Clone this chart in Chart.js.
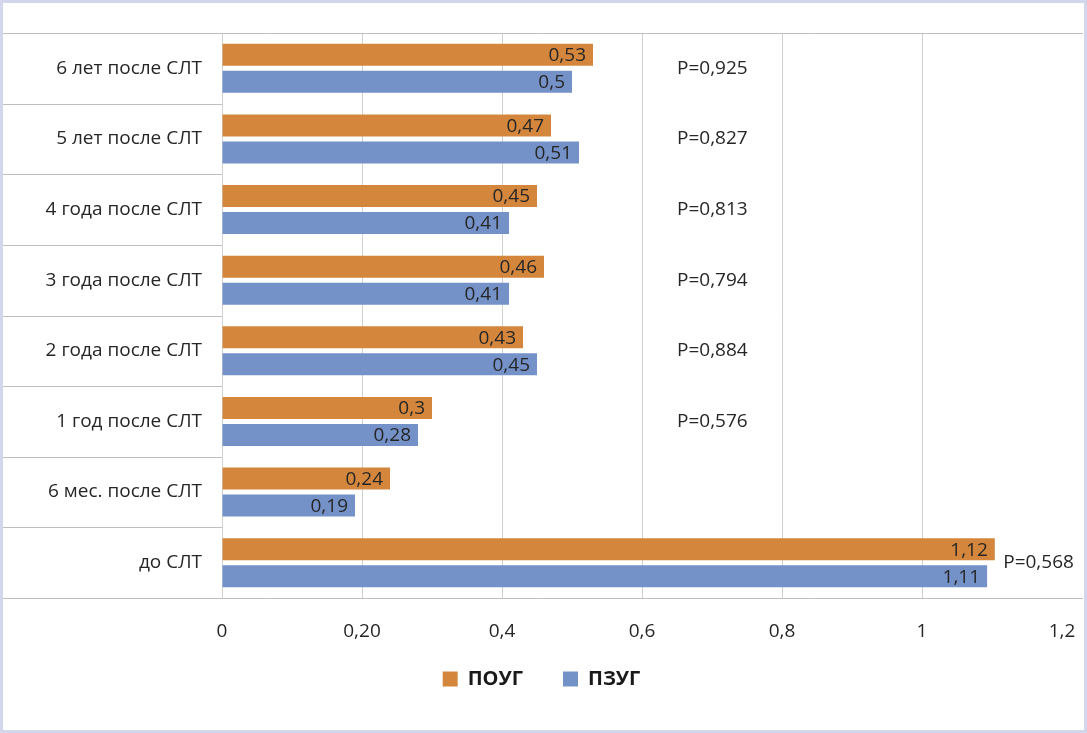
<!DOCTYPE html>
<html lang="ru">
<head>
<meta charset="UTF-8">
<title>СЛТ</title>
<script src="https://cdn.jsdelivr.net/npm/chart.js"></script>
<style>
  html, body { margin: 0; padding: 0; background: #fff; }
  #wrap { width: 1087px; height: 733px; position: relative; }
</style>
</head>
<body>
<div id="wrap"><canvas id="grafico"></canvas></div>
<script>
  // данные с картинки
  var categories = ['6 лет после СЛТ', '5 лет после СЛТ', '4 года после СЛТ', '3 года после СЛТ',
    '2 года после СЛТ', '1 год после СЛТ', '6 мес. после СЛТ', 'до СЛТ'];
  var poug = [0.53, 0.47, 0.45, 0.46, 0.43, 0.30, 0.24, 1.104];
  var pzug = [0.50, 0.51, 0.41, 0.41, 0.45, 0.28, 0.19, 1.093];
  var pougLabels = ['0,53', '0,47', '0,45', '0,46', '0,43', '0,3', '0,24', '1,12'];
  var pzugLabels = ['0,5', '0,51', '0,41', '0,41', '0,45', '0,28', '0,19', '1,11'];
  var pValues = ['P=0,925', 'P=0,827', 'P=0,813', 'P=0,794', 'P=0,884', 'P=0,576', '', 'P=0,568'];
  var pPos = [0.65, 0.65, 0.65, 0.65, 0.65, 0.65, 0.65, 1.116];
  var xTicks = [0, 0.2, 0.4, 0.6, 0.8, 1, 1.2];
  var xTickLabels = ['0', '0,20', '0,4', '0,6', '0,8', '1', '1,2'];

  var FONT = '"Open Sans", "Noto Sans", sans-serif';
  var LINE = '#BFBFBF';

  var framePlugin = {
    id: 'frame',
    beforeDraw: function (chart) {
      var c = chart.ctx;
      c.save();
      c.fillStyle = '#fff';
      c.fillRect(0, 0, chart.width, chart.height);
      c.restore();
    },
    afterDraw: function (chart) {
      var c = chart.ctx, a = chart.chartArea, xs = chart.scales.x;
      c.save();
      c.strokeStyle = LINE;
      c.lineWidth = 1;
      c.beginPath();
      c.moveTo(0, a.top + 0.5); c.lineTo(a.right, a.top + 0.5);
      c.moveTo(0, a.bottom + 0.5); c.lineTo(a.right, a.bottom + 0.5);
      var step = (a.bottom - a.top) / categories.length;
      for (var i = 1; i < categories.length; i++) {
        var yy = Math.round(a.top + step * i) + 0.5;
        c.moveTo(0, yy); c.lineTo(a.left, yy);
      }
      c.stroke();
      // подписи оси X
      c.font = '19px ' + FONT;
      c.fillStyle = '#262626';
      c.textAlign = 'center';
      c.textBaseline = 'middle';
      xTicks.forEach(function (v, i) {
        c.fillText(xTickLabels[i], xs.getPixelForValue(v), a.bottom + 34);
      });
      // рамка картинки
      c.strokeStyle = '#D3D7EC';
      c.lineWidth = 3;
      c.strokeRect(1.5, 1.5, chart.width - 3, chart.height - 3);
      c.restore();
    }
  };

  var labelPlugin = {
    id: 'valueLabels',
    afterDatasetsDraw: function (chart) {
      var c = chart.ctx;
      c.save();
      c.font = '19px ' + FONT;
      c.fillStyle = '#262626';
      c.textAlign = 'right';
      c.textBaseline = 'middle';
      [pougLabels, pzugLabels].forEach(function (lbls, d) {
        chart.getDatasetMeta(d).data.forEach(function (bar, i) {
          c.fillText(lbls[i], bar.x - 7, bar.y + 1);
        });
      });
      // P-значения
      c.textAlign = 'left';
      var xs = chart.scales.x, ys = chart.scales.y;
      pValues.forEach(function (t, i) {
        if (!t) return;
        c.fillText(t, xs.getPixelForValue(pPos[i]), ys.getPixelForValue(i));
      });
      c.restore();
    }
  };

  new Chart(document.getElementById('grafico'), {
    type: 'bar',
    data: {
      labels: categories,
      datasets: [{
        label: 'ПОУГ',
        data: poug,
        backgroundColor: '#D4873C',
        categoryPercentage: 0.765,
        barPercentage: 0.815
      }, {
        label: 'ПЗУГ',
        data: pzug,
        backgroundColor: '#7592C8',
        categoryPercentage: 0.765,
        barPercentage: 0.815
      }]
    },
    options: {
      indexAxis: 'y',
      responsive: true,
      maintainAspectRatio: false,
      animation: false,
      layout: { padding: { top: 33, right: 4, bottom: 34, left: 0 } },
      scales: {
        x: {
          min: 0,
          max: 1.23,
          afterBuildTicks: function (scale) {
            scale.ticks = xTicks.map(function (v) { return { value: v }; });
          },
          afterFit: function (scale) {
            scale.height = 31;
            scale.paddingLeft = 0;
            scale.paddingRight = 0;
          },
          grid: {
            color: function (ctx) { return ctx.tick && ctx.tick.value === 1.2 ? 'rgba(0,0,0,0)' : '#D0D0D0'; },
            drawTicks: false
          },
          border: { display: false },
          ticks: { display: false }
        },
        y: {
          afterFit: function (scale) { scale.width = 222; },
          grid: { display: false, drawTicks: false },
          border: { display: false },
          ticks: {
            padding: 20,
            crossAlign: 'near',
            color: '#262626',
            font: { family: FONT, size: 19 }
          }
        }
      },
      plugins: {
        legend: {
          position: 'bottom',
          labels: {
            boxWidth: 15,
            boxHeight: 15,
            padding: 40,
            color: '#1a1a1a',
            font: { family: FONT, size: 20, weight: 'bold' }
          }
        },
        tooltip: { enabled: false }
      }
    },
    plugins: [framePlugin, labelPlugin]
  });
</script>
</body>
</html>
